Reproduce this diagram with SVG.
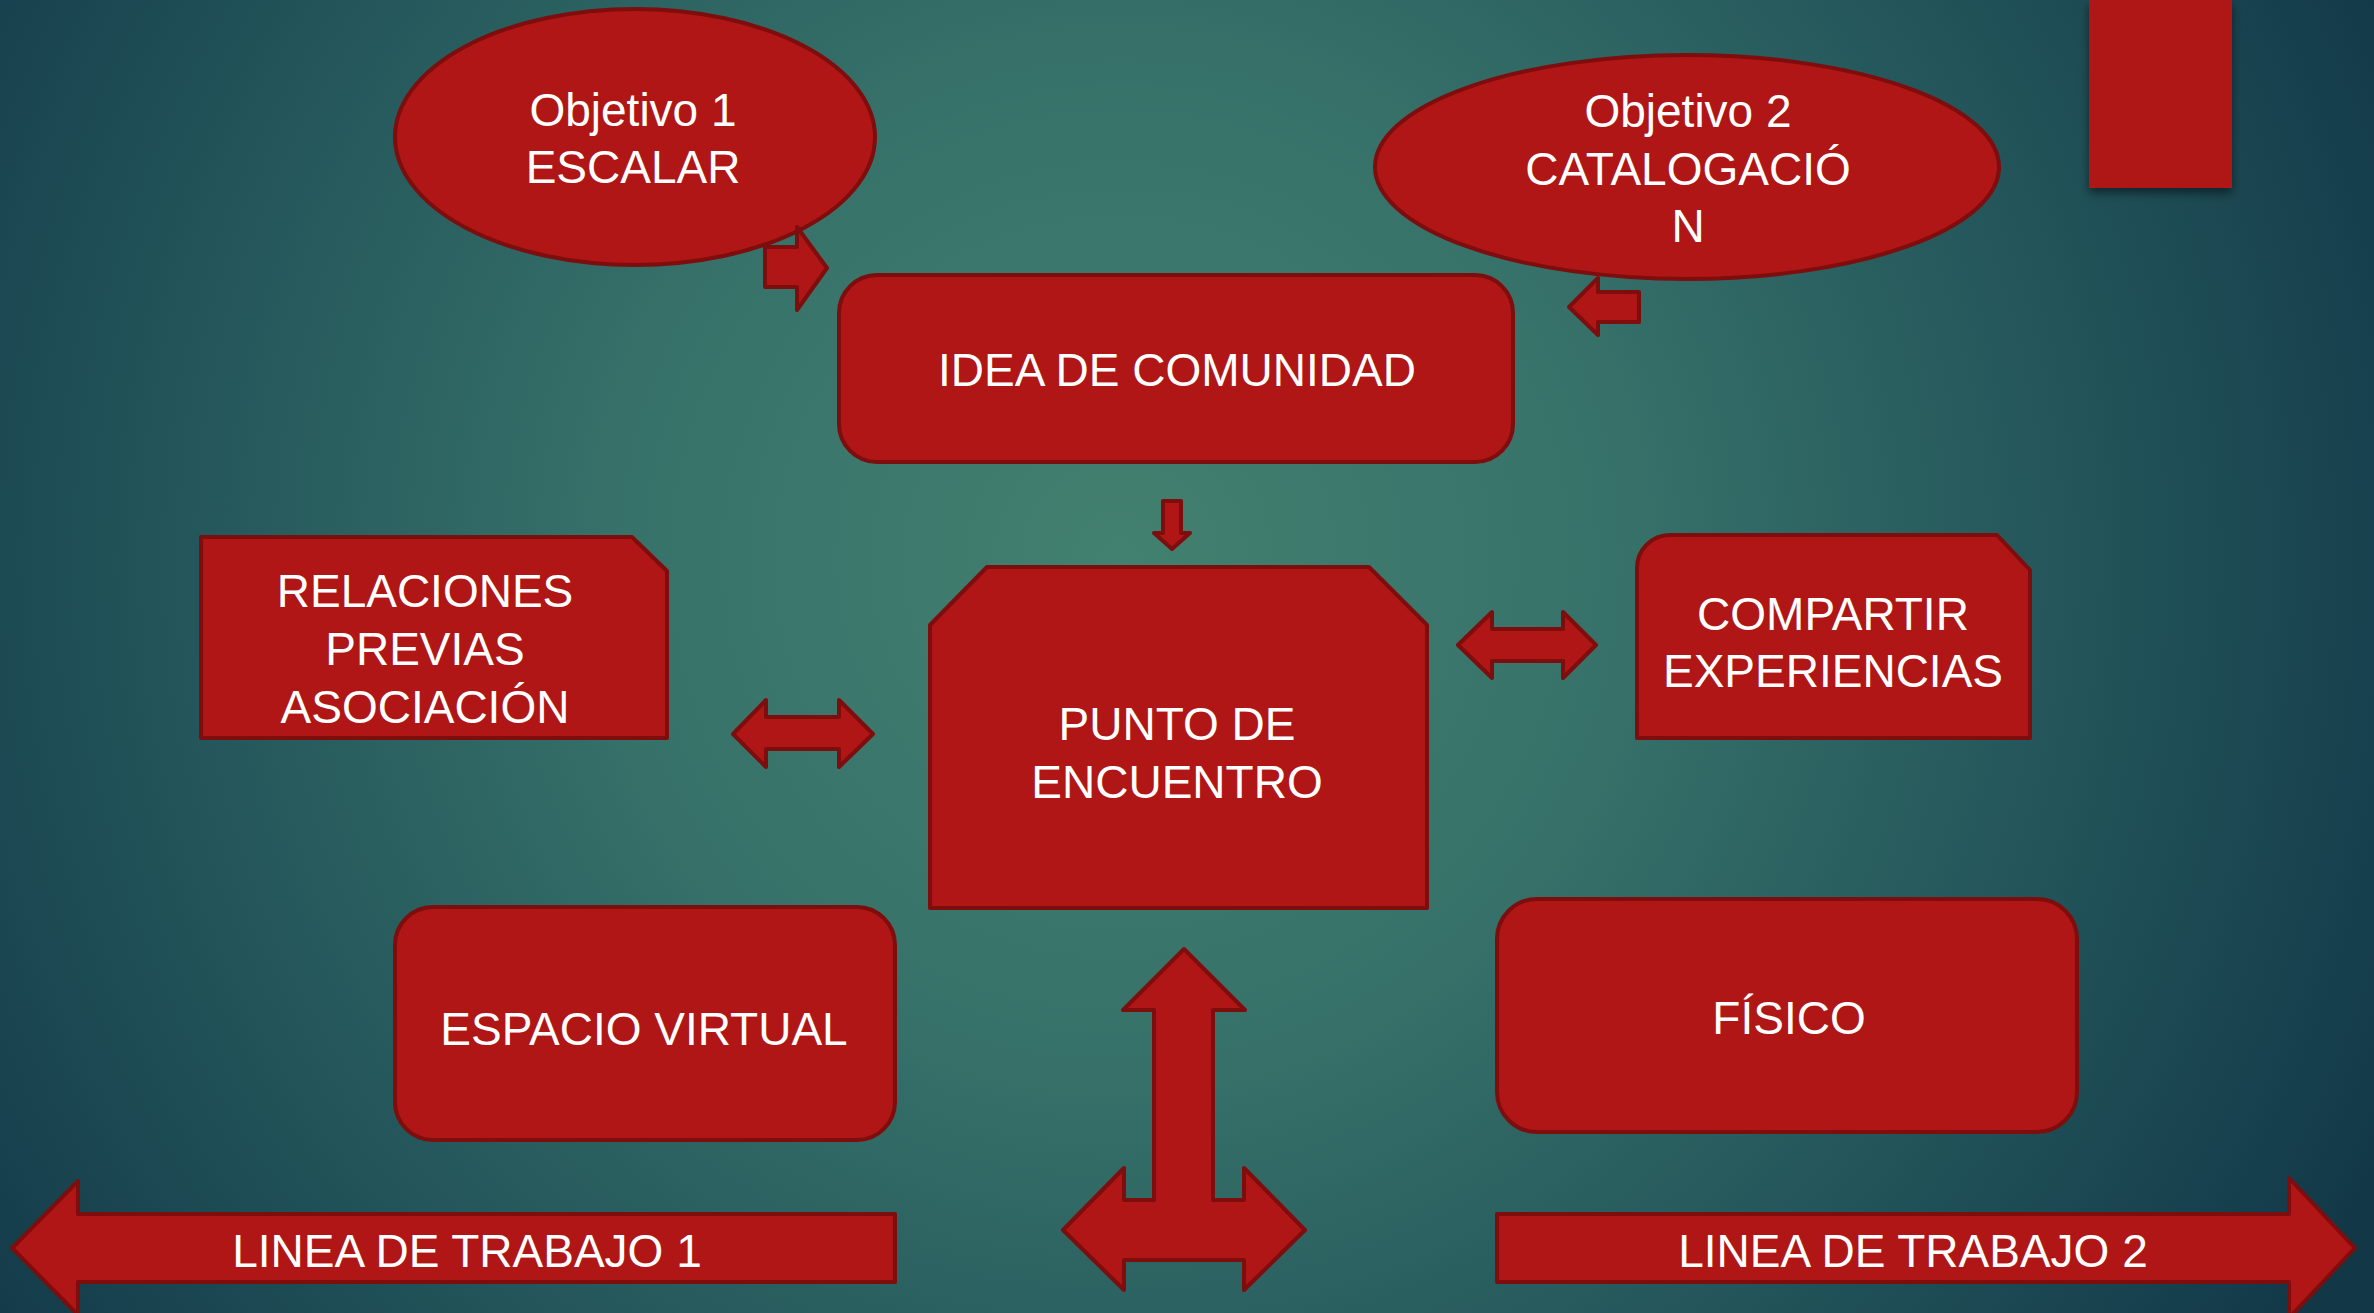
<svg xmlns="http://www.w3.org/2000/svg" width="2374" height="1313" viewBox="0 0 2374 1313">
<defs>
<radialGradient id="bg" gradientUnits="userSpaceOnUse" cx="1120" cy="560" r="1400">
<stop offset="0" stop-color="#42806f"/>
<stop offset="0.35" stop-color="#37726a"/>
<stop offset="0.68" stop-color="#23555a"/>
<stop offset="1" stop-color="#123848"/>
</radialGradient>
<filter id="shadow" x="-20%" y="-20%" width="140%" height="140%">
<feDropShadow dx="0" dy="5" stdDeviation="5" flood-color="#000" flood-opacity="0.5"/>
</filter>
</defs>
<style>
.shape{fill:#af1615;stroke:#7e0d0d;stroke-width:4;stroke-linejoin:round}
.arrow{fill:#af1615;stroke:#7e0d0d;stroke-width:4;stroke-linejoin:round}
.t{fill:#ffffff;font-family:"Liberation Sans",Arial,sans-serif;font-size:46px;text-anchor:middle}
</style>
<rect x="0" y="0" width="2374" height="1313" fill="url(#bg)"/>
<rect id="corner-bar" x="2089" y="0" width="143" height="188" fill="#af1615" filter="url(#shadow)"/>

<g id="objetivo1">
<ellipse class="shape" cx="635" cy="137" rx="240" ry="128"/>
<text class="t" x="633" y="126">Objetivo 1</text>
<text class="t" x="633" y="183">ESCALAR</text>
</g>

<g id="objetivo2">
<ellipse class="shape" cx="1687" cy="167" rx="312" ry="112"/>
<text class="t" x="1688" y="127">Objetivo 2</text>
<text class="t" x="1688" y="185">CATALOGACIÓ</text>
<text class="t" x="1688" y="242">N</text>
</g>

<g id="idea">
<rect class="shape" x="839" y="275" width="674" height="187" rx="38" ry="38"/>
<text class="t" x="1177" y="386">IDEA DE COMUNIDAD</text>
</g>

<g id="punto">
<polygon class="shape" points="987,567 1369,567 1427,625 1427,908 930,908 930,625"/>
<text class="t" x="1177" y="740">PUNTO DE</text>
<text class="t" x="1177" y="798">ENCUENTRO</text>
</g>

<g id="relaciones">
<path class="shape" d="M201,537 L632,537 L667,571 L667,738 L201,738 Z"/>
<text class="t" x="425" y="607">RELACIONES</text>
<text class="t" x="425" y="665">PREVIAS</text>
<text class="t" x="425" y="723">ASOCIACIÓN</text>
</g>

<g id="compartir">
<path class="shape" d="M1637,738 L1637,568 A33,33 0 0 1 1670,535 L1997,535 L2030,570 L2030,738 Z"/>
<text class="t" x="1833" y="630">COMPARTIR</text>
<text class="t" x="1833" y="687">EXPERIENCIAS</text>
</g>

<g id="espacio-virtual">
<rect class="shape" x="395" y="907" width="500" height="233" rx="38" ry="38"/>
<text class="t" x="644" y="1045">ESPACIO VIRTUAL</text>
</g>

<g id="fisico">
<rect class="shape" x="1497" y="899" width="580" height="233" rx="40" ry="40"/>
<text class="t" x="1789" y="1034">FÍSICO</text>
</g>

<g id="connectors">
<polygon class="arrow" points="765,247 797,247 797,227 827,268 797,310 797,287 765,287"/>
<polygon class="arrow" points="1639,292 1598,292 1598,278 1569,307 1598,335 1598,322 1639,322"/>
<polygon class="arrow" points="1163,501 1181,501 1181,533 1190,533 1172,549 1154,533 1163,533"/>
<polygon class="arrow" points="733,734 766,700 766,717 839,717 839,700 873,734 839,767 839,749 766,749 766,767"/>
<polygon class="arrow" points="1458,645 1492,612 1492,629 1563,629 1563,612 1596,645 1563,678 1563,661 1492,661 1492,678"/>
<polygon class="arrow" points="1184,949 1245,1010 1213,1010 1213,1200 1244,1200 1244,1168 1305,1230 1244,1290 1244,1260 1124,1260 1124,1290 1063,1230 1124,1168 1124,1200 1154,1200 1154,1010 1123,1010"/>
</g>

<g id="linea1">
<polygon class="arrow" points="12,1248 78,1181 78,1214 895,1214 895,1282 78,1282 78,1315"/>
<text class="t" x="467" y="1267">LINEA DE TRABAJO 1</text>
</g>

<g id="linea2">
<polygon class="arrow" points="1497,1214 2289,1214 2289,1178 2355,1248 2289,1318 2289,1282 1497,1282"/>
<text class="t" x="1913" y="1267">LINEA DE TRABAJO 2</text>
</g>
</svg>
